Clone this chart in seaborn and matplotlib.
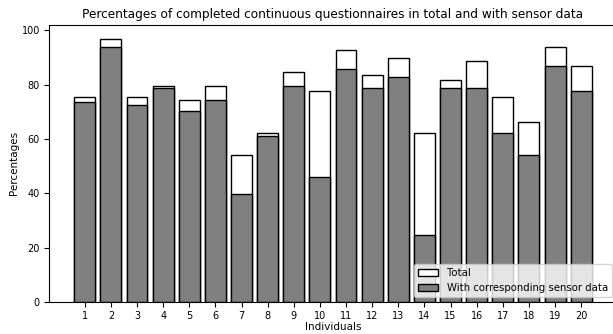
# recreate the questionnaire completion bar chart
import pandas as pd
import numpy as np
import matplotlib
matplotlib.use("Agg")
import matplotlib.pyplot as plt
import seaborn as sns

# data
individuals = [str(i) for i in range(1, 21)]
total = [75.5, 96.9, 75.5, 79.6, 74.5, 79.6, 54.1, 62.2, 84.7, 77.6,
         92.9, 83.7, 89.8, 62.2, 81.6, 88.8, 75.5, 66.3, 93.9, 86.7]
with_sensor = [73.5, 93.9, 72.4, 78.6, 70.4, 74.5, 39.8, 61.2, 79.6, 45.9,
               85.7, 78.6, 82.7, 24.5, 78.6, 78.6, 62.2, 54.1, 86.7, 77.6]

df = pd.DataFrame({"individual": individuals, "total": total, "sensor": with_sensor})

fig = plt.figure(figsize=(6.13, 3.34), dpi=100)
ax = fig.add_axes([0.0799, 0.0958, 0.9266, 0.830])

# total bars in white behind, sensor bars in grey on top
sns.barplot(data=df, x="individual", y="total", color="white", edgecolor="black",
            linewidth=1, width=0.8, saturation=1, label="Total", ax=ax)
sns.barplot(data=df, x="individual", y="sensor", color="grey", edgecolor="black",
            linewidth=1, width=0.8, saturation=1,
            label="With corresponding sensor data", ax=ax)

ax.set_xlim(-1.37, 20.37)
ax.set_ylim(0, 102)
ax.set_yticks(np.arange(0, 101, 20))
ax.tick_params(labelsize=7, pad=3)
ax.set_xlabel("Individuals", fontsize=7.5, labelpad=1)
ax.set_ylabel("Percentages", fontsize=7.5, labelpad=2)
ax.set_title("Percentages of completed continuous questionnaires in total and with sensor data",
             fontsize=8.75, pad=5)
ax.legend(loc="lower right", fontsize=7.3)

fig.savefig("out.png", dpi=100)
